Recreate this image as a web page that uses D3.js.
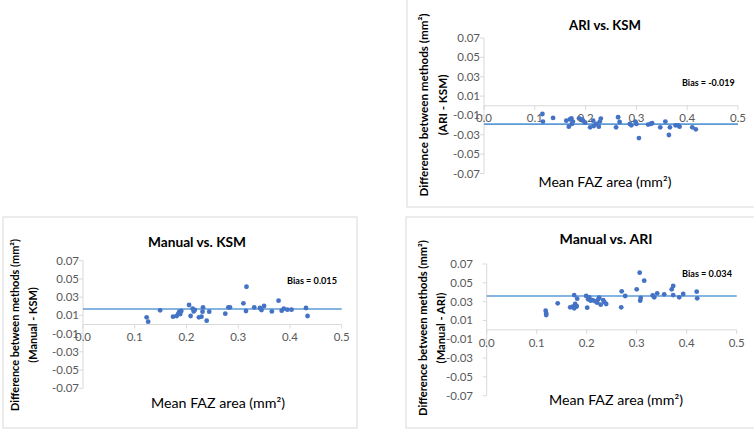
<!DOCTYPE html>
<html><head><meta charset="utf-8">
<script src="https://cdn.jsdelivr.net/npm/d3@7"></script>
<style>
html,body{margin:0;padding:0;background:#fff;}
svg{display:block;font-family:Lato,"Liberation Sans",Arial,sans-serif;}
</style></head>
<body>
<svg id="c" width="754" height="430"></svg>
<script>
// ---------- data ----------
const xTickValues = [0, 0.1, 0.2, 0.3, 0.4, 0.5];
const yTickValues = [-0.07, -0.05, -0.03, -0.01, 0.01, 0.03, 0.05, 0.07];
const panelTitles = ["ARI vs. KSM", "Manual vs. KSM", "Manual vs. ARI"];
const yTitleLine1 = "Difference between methods (mm²)";
const yTitleLine2 = ["(ARI - KSM)", "(Manual - KSM)", "(Manual - ARI)"];
const xTitle = "Mean FAZ area (mm²)";
const biasLabels = ["Bias = -0.019", "Bias = 0.015", "Bias = 0.034"];
const biasLines = [-0.019, 0.017, 0.036];

const ariKsmMean = [0.115,0.116,0.136,0.162,0.167,0.169,0.172,0.173,0.175,0.187,0.192,0.195,0.199,0.209,0.215,0.216,0.221,0.226,0.230,0.228,0.260,0.264,0.267,0.287,0.290,0.298,0.300,0.305,0.323,0.328,0.331,0.347,0.357,0.364,0.366,0.377,0.382,0.385,0.410,0.417];
const ariKsmDiff = [-0.0085,-0.0164,-0.0126,-0.0154,-0.0216,-0.014,-0.013,-0.0188,-0.0164,-0.013,-0.014,-0.0154,-0.0175,-0.0223,-0.0154,-0.0209,-0.0188,-0.0216,-0.0133,-0.0164,-0.0223,-0.0119,-0.0168,-0.0188,-0.0202,-0.0164,-0.0188,-0.0334,-0.0195,-0.0188,-0.0181,-0.0223,-0.0164,-0.0302,-0.0223,-0.0202,-0.0202,-0.0216,-0.0223,-0.0244];

const manKsmMean = [0.123,0.126,0.149,0.174,0.181,0.184,0.186,0.190,0.188,0.205,0.208,0.212,0.214,0.216,0.224,0.229,0.232,0.231,0.239,0.244,0.275,0.281,0.284,0.310,0.316,0.315,0.331,0.342,0.345,0.350,0.365,0.378,0.384,0.388,0.395,0.403,0.431,0.434];
const manKsmDiff = [0.0079,0.0031,0.0155,0.0086,0.0093,0.0115,0.0141,0.0148,0.0115,0.0214,0.0093,0.0174,0.0144,0.0159,0.0079,0.0086,0.0188,0.0141,0.0042,0.0141,0.0119,0.0188,0.0188,0.0232,0.0414,0.0148,0.0188,0.0181,0.0159,0.0203,0.0144,0.0261,0.0152,0.0174,0.0163,0.0163,0.0181,0.0093];

const manAriMean = [0.118,0.119,0.119,0.142,0.167,0.172,0.175,0.175,0.177,0.179,0.181,0.180,0.199,0.201,0.203,0.205,0.208,0.212,0.217,0.221,0.223,0.225,0.228,0.233,0.235,0.239,0.270,0.269,0.277,0.300,0.306,0.307,0.308,0.315,0.332,0.335,0.341,0.355,0.370,0.373,0.373,0.385,0.393,0.420,0.421];
const manAriDiff = [0.0204,0.0175,0.0158,0.0282,0.0239,0.0246,0.0370,0.0229,0.0275,0.0246,0.0331,0.0253,0.0360,0.0236,0.0324,0.0346,0.0310,0.0317,0.0303,0.0289,0.0324,0.0342,0.0268,0.0317,0.0296,0.0275,0.0409,0.0239,0.0360,0.0431,0.0608,0.0310,0.0339,0.0523,0.0367,0.0346,0.0388,0.0378,0.0431,0.0466,0.0370,0.0346,0.0381,0.0406,0.0335];

const seriesMeans = [ariKsmMean, manKsmMean, manAriMean];
const seriesDiffs = [ariKsmDiff, manKsmDiff, manAriDiff];

// ---------- layout ----------
const layout = [
  {box:[407,-1,350,208], x0:484, x1:738, yTop:38, yBot:173.5,
   title:[605,25,72], xt:[605,182,133], yt:[424,443,105,183], bias:[682,83,52.7], yLabRight:480, xLabY:118.3},
  {box:[3,217,354,211], x0:83, x1:341.7, yTop:260.7, yBot:388.3,
   title:[197,242,98], xt:[218,403,134], yt:[15,33,325,172], bias:[287,281,50], yLabRight:79, xLabY:337},
  {box:[406,217,350,211], x0:486.7, x1:736.7, yTop:264, yBot:395.7,
   title:[606,239,93], xt:[616,400,134], yt:[423,441,328,176], bias:[682,274,50], yLabRight:473, xLabY:343.3}
];

const svg = d3.select("#c");
const axisColor = "#d9d9d9", labColor = "#595959";

function fit(sel, width) {
  sel.attr("font-size", 10);
  const w = sel.node().getComputedTextLength();
  const fs = 10 * width / w;
  sel.attr("font-size", fs);
  return fs;
}
const probe = svg.append("text").attr("font-size", 10).text("-0.01");
const tickFs = 10 * 27 / probe.node().getComputedTextLength();
probe.remove();

layout.forEach((L, i) => {
  const g = svg.append("g");
  g.append("rect").attr("x", L.box[0]).attr("y", L.box[1]).attr("width", L.box[2]).attr("height", L.box[3])
    .attr("fill", "none").attr("stroke", axisColor).attr("stroke-width", 1);

  const x = d3.scaleLinear().domain([0, 0.5]).range([L.x0, L.x1]);
  const y = d3.scaleLinear().domain([-0.07, 0.07]).range([L.yBot, L.yTop]);

  g.append("line").attr("x1", x(0)).attr("x2", x(0)).attr("y1", y(0.07)).attr("y2", y(-0.07))
    .attr("stroke", axisColor);
  yTickValues.forEach(v => {
    g.append("line").attr("x1", x(0) - 4).attr("x2", x(0)).attr("y1", y(v)).attr("y2", y(v)).attr("stroke", axisColor);
    g.append("text").attr("x", L.yLabRight).attr("y", y(v)).attr("dy", "0.35em")
      .attr("text-anchor", "end").attr("font-size", tickFs).attr("fill", labColor).text(d3.format(".2f")(v).replace("−","-"));
  });
  g.append("line").attr("x1", x(0)).attr("x2", x(0.5)).attr("y1", y(0)).attr("y2", y(0)).attr("stroke", axisColor);
  xTickValues.forEach(v => {
    g.append("line").attr("x1", x(v)).attr("x2", x(v)).attr("y1", y(0)).attr("y2", y(0) + 4).attr("stroke", axisColor);
    g.append("text").attr("x", x(v)).attr("y", L.xLabY).attr("dy", "0.35em")
      .attr("text-anchor", "middle").attr("font-size", tickFs).attr("fill", labColor).text(d3.format(".1f")(v));
  });

  g.append("line").attr("x1", x(0)).attr("x2", x(0.5)).attr("y1", y(biasLines[i])).attr("y2", y(biasLines[i]))
    .attr("stroke", "#5b9bd5").attr("stroke-width", 1.6);

  g.selectAll("circle.pt").data(d3.zip(seriesMeans[i], seriesDiffs[i])).join("circle")
    .attr("class", "pt").attr("cx", d => x(d[0])).attr("cy", d => y(d[1])).attr("r", 2.4).attr("fill", "#4472c4");

  const t = g.append("text").attr("x", L.title[0]).attr("y", L.title[1]).attr("dy", "0.35em").attr("text-anchor", "middle")
    .attr("font-weight", "bold").attr("fill", "#000").text(panelTitles[i]);
  fit(t, L.title[2]);
  const xt = g.append("text").attr("x", L.xt[0]).attr("y", L.xt[1]).attr("dy", "0.35em").attr("text-anchor", "middle")
    .attr("fill", "#000").text(xTitle);
  fit(xt, L.xt[2]);
  const y1 = g.append("text").attr("transform", `translate(${L.yt[0]},${L.yt[2]}) rotate(-90)`).attr("dy", "0.35em")
    .attr("text-anchor", "middle").attr("font-weight", "bold").attr("fill", "#000").text(yTitleLine1);
  const yfs = fit(y1, L.yt[3]);
  g.append("text").attr("transform", `translate(${L.yt[1]},${L.yt[2]}) rotate(-90)`).attr("dy", "0.35em")
    .attr("text-anchor", "middle").attr("font-size", yfs).attr("font-weight", "bold").attr("fill", "#000").text(yTitleLine2[i]);
  const b = g.append("text").attr("x", L.bias[0]).attr("y", L.bias[1]).attr("dy", "0.35em")
    .attr("font-weight", "bold").attr("fill", "#000").text(biasLabels[i]);
  fit(b, L.bias[2]);
});
</script>
</body></html>
